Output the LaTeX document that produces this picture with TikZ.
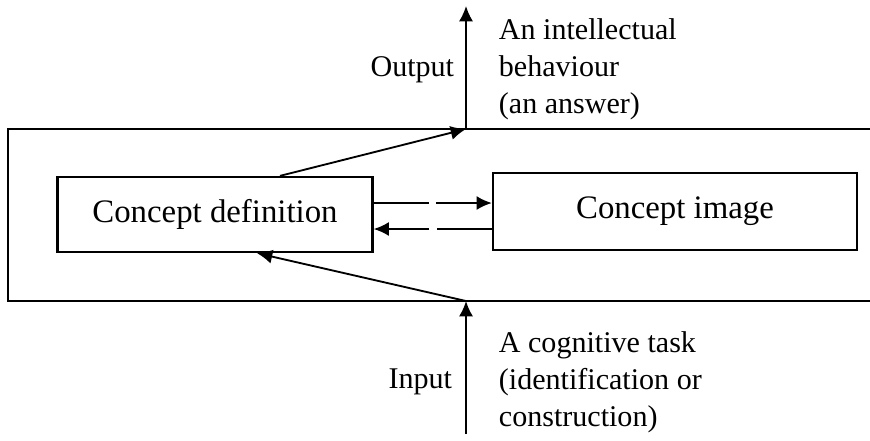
\documentclass[tikz,border=0pt]{standalone}
\usepackage{fontspec}
\setmainfont{Liberation Serif}
\usetikzlibrary{arrows.meta}
\usetikzlibrary{positioning}

\tikzset{
  conceptbox/.style={draw, line width=0.7pt, inner sep=0pt,
    font=\fontsize{10.7}{13}\selectfont},
  sidetext/.style={align=left, inner sep=0pt, font=\fontsize{9.8}{12}\selectfont},
  dashedarrow/.style={->, line width=0.7pt, dash pattern=on 18pt off 2.5pt},
}

\begin{document}
\begin{tikzpicture}[x=0.326pt, y=-0.326pt, line width=0.6pt, >={Latex[length=5pt,width=4.6pt]}]
  \useasboundingbox (0,0) rectangle (870,440);

  % the two concept boxes
  \node [conceptbox, minimum width=102.7pt, minimum height=24.5pt] (defn) at (215,214.5) {Concept definition};
  \node [conceptbox, minimum width=118.7pt, minimum height=25pt] (img) at (675,211.5) {Concept image};

  % frame, open on the right
  \coordinate (outbase) at (466,129);
  \coordinate (inbase) at (466,301);
  \draw [line width=0.8pt] (870,129) -- (8,129) -- (8,301) -- (870,301);

  % output and input
  \coordinate (outtop) at (466,6);
  \coordinate (inbottom) at (466,434);
  \draw [->] (outbase) -- (outtop);
  \draw [->] (inbottom) -- (inbase);
  \draw [->] (defn.north -| 280,0) -- (outbase);
  \draw [->] (inbase) -- (defn.south -| 257,0);

  % between definition and image
  \draw [dashedarrow] (defn.east |- 0,203) -- (img.west |- 0,203);
  \draw [dashedarrow] (img.west |- 0,229) -- (defn.east |- 0,229);

  \node [sidetext, anchor=east] (outlabel) at (455,70) {Output};
  \node [sidetext, anchor=east] (inlabel) at (453,382) {Input};
  \node [sidetext, anchor=west] (outtext) at (498,69) {An intellectual\\behaviour\\(an answer)};
  \node [sidetext, anchor=west] (intext) at (498,382) {A cognitive task\\(identification or\\construction)};
\end{tikzpicture}
\end{document}
